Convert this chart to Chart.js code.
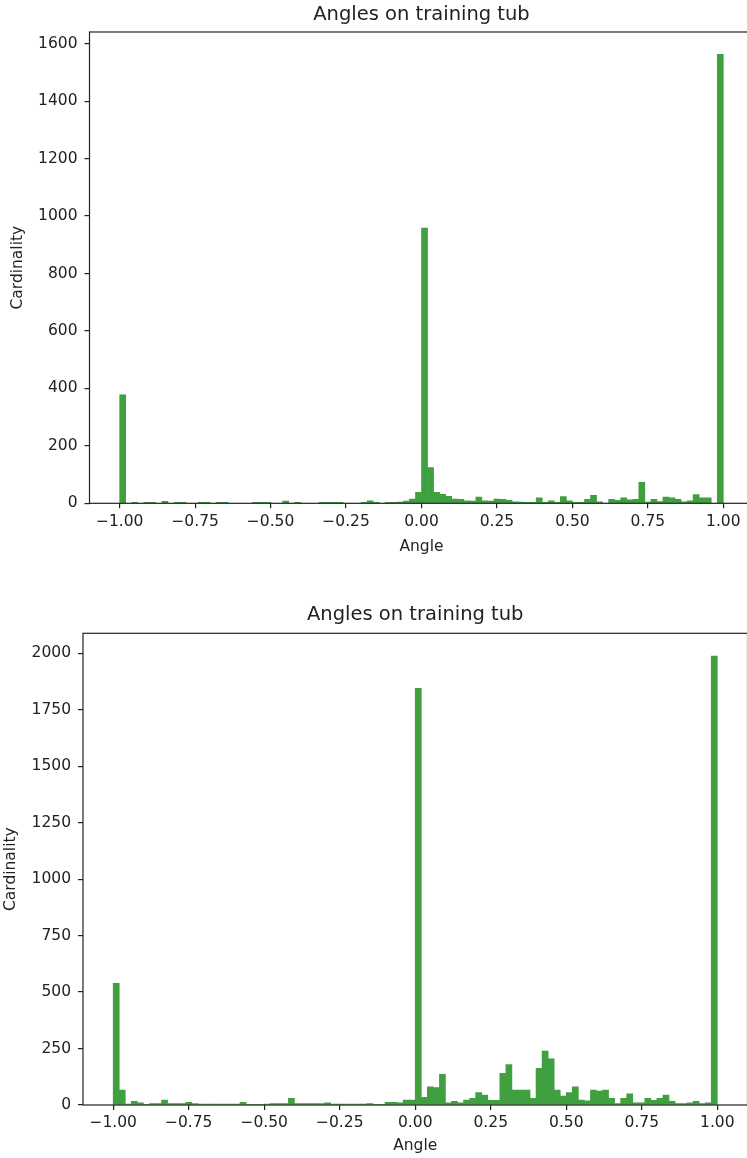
<!DOCTYPE html>
<html>
<head>
<meta charset="utf-8">
<script src="https://cdn.jsdelivr.net/npm/chart.js@4.4.1/dist/chart.umd.min.js"></script>
<style>
  html, body { margin: 0; padding: 0; background: #fff; overflow: hidden; }
  #wrap { position: relative; width: 747px; height: 1158px; overflow: hidden; }
  canvas { position: absolute; left: 0; }
  #chartTop { top: 0; }
  #chartBottom { top: 580px; }
</style>
</head>
<body>
<div id="wrap">
  <canvas id="chartTop" width="760" height="570"></canvas>
  <canvas id="chartBottom" width="760" height="578"></canvas>
</div>
<script>
// centros dos 100 bins (largura 0.02)
const binCenters = [
  -0.99, -0.97, -0.95, -0.93, -0.91, -0.89, -0.87, -0.85, -0.83, -0.81,
  -0.79, -0.77, -0.75, -0.73, -0.71, -0.69, -0.67, -0.65, -0.63, -0.61,
  -0.59, -0.57, -0.55, -0.53, -0.51, -0.49, -0.47, -0.45, -0.43, -0.41,
  -0.39, -0.37, -0.35, -0.33, -0.31, -0.29, -0.27, -0.25, -0.23, -0.21,
  -0.19, -0.17, -0.15, -0.13, -0.11, -0.09, -0.07, -0.05, -0.03, -0.01,
  0.01, 0.03, 0.05, 0.07, 0.09, 0.11, 0.13, 0.15, 0.17, 0.19,
  0.21, 0.23, 0.25, 0.27, 0.29, 0.31, 0.33, 0.35, 0.37, 0.39,
  0.41, 0.43, 0.45, 0.47, 0.49, 0.51, 0.53, 0.55, 0.57, 0.59,
  0.61, 0.63, 0.65, 0.67, 0.69, 0.71, 0.73, 0.75, 0.77, 0.79,
  0.81, 0.83, 0.85, 0.87, 0.89, 0.91, 0.93, 0.95, 0.97, 0.99
];

const countsTop = [
  378, 0, 3, 0, 3, 3, 0, 7, 0, 3,
  3, 0, 0, 3, 3, 0, 3, 3, 0, 0,
  0, 0, 3, 3, 3, 0, 0, 8, 0, 3,
  0, 0, 0, 3, 3, 3, 3, 0, 0, 0,
  3, 9, 3, 0, 3, 3, 4, 8, 15, 38,
  958, 124, 38, 31, 24, 15, 14, 9, 8, 22,
  9, 8, 15, 14, 10, 5, 4, 3, 3, 19,
  3, 9, 3, 23, 9, 3, 3, 14, 28, 5,
  0, 14, 10, 19, 12, 14, 73, 4, 14, 6,
  22, 19, 14, 5, 9, 30, 19, 19, 0, 1563
];

const countsBottom = [
  539, 66, 4, 16, 10, 3, 6, 6, 22, 6,
  6, 6, 12, 6, 4, 4, 4, 4, 4, 4,
  4, 12, 3, 3, 3, 4, 6, 6, 6, 30,
  6, 6, 6, 6, 6, 10, 4, 4, 4, 4,
  4, 4, 6, 3, 3, 12, 12, 10, 22, 22,
  1845, 34, 81, 77, 136, 10, 16, 10, 22, 30,
  55, 44, 21, 21, 140, 179, 66, 66, 66, 30,
  162, 239, 205, 66, 40, 55, 81, 22, 18, 66,
  62, 66, 30, 6, 30, 49, 10, 10, 30, 21,
  30, 44, 16, 6, 6, 10, 16, 6, 10, 1988
];

const xTicks = [-1, -0.75, -0.5, -0.25, 0, 0.25, 0.5, 0.75, 1];
const yTicksTop = [0, 200, 400, 600, 800, 1000, 1200, 1400, 1600];
const yTicksBottom = [0, 250, 500, 750, 1000, 1250, 1500, 1750, 2000];

const titleText = 'Angles on training tub';
const xLabel = 'Angle';
const yLabel = 'Cardinality';

// moldura completa (estilo matplotlib)
const frame = {
  id: 'frame',
  afterDatasetsDraw(chart) {
    const a = chart.chartArea;
    const ctx = chart.ctx;
    ctx.save();
    ctx.strokeStyle = '#222';
    ctx.lineWidth = 1.2;
    ctx.strokeRect(a.left, a.top, a.right - a.left, a.bottom - a.top);
    ctx.restore();
  }
};

function comMenos(v, casas) {
  return Number(v).toFixed(casas).replace('-', '\u2212');
}

function histograma(canvasId, counts, yTicks, yMax, box) {
  const font = { family: 'DejaVu Sans', size: 15.5 };
  return new Chart(document.getElementById(canvasId), {
    type: 'bar',
    data: {
      datasets: [{
        data: binCenters.map((x, i) => ({ x: x, y: counts[i] })),
        backgroundColor: '#40a040',
        borderWidth: 0,
        barPercentage: 1,
        categoryPercentage: 1
      }]
    },
    options: {
      responsive: false,
      animation: false,
      devicePixelRatio: 1,
      layout: { padding: { left: 0, right: box.padRight, top: 0, bottom: 0 } },
      plugins: {
        legend: { display: false },
        tooltip: { enabled: false },
        title: {
          display: true,
          text: titleText,
          fullSize: false,
          color: '#222',
          font: { family: 'DejaVu Sans', size: 19.5, weight: 'normal' },
          padding: { top: box.titleTop, bottom: box.titleBottom }
        }
      },
      scales: {
        x: {
          type: 'linear',
          min: -1.1,
          max: 1.1,
          offset: false,
          afterFit: s => { s.height = box.xHeight; },
          afterBuildTicks: s => { s.ticks = xTicks.map(v => ({ value: v })); },
          grid: { offset: false, drawOnChartArea: false, drawTicks: true, tickLength: 5, color: '#222', lineWidth: 1.2 },
          border: { display: false },
          ticks: { font: font, color: '#222', padding: 4, autoSkip: false, maxRotation: 0, callback: v => comMenos(v, 2) },
          title: { display: true, text: xLabel, font: font, color: '#222', padding: { top: 0, bottom: box.xTitlePad } }
        },
        y: {
          min: 0,
          max: yMax,
          afterFit: s => { s.width = box.yWidth; },
          afterBuildTicks: s => { s.ticks = yTicks.map(v => ({ value: v })); },
          grid: { drawOnChartArea: false, drawTicks: true, tickLength: 5, color: '#222', lineWidth: 1.2 },
          border: { display: false },
          ticks: { font: font, color: '#222', padding: 7, autoSkip: false, callback: v => String(v) },
          title: { display: true, text: yLabel, font: font, color: '#222', padding: { top: box.yTitlePad, bottom: 0 } }
        }
      }
    },
    plugins: [frame]
  });
}

window.addEventListener('DOMContentLoaded', () => {
  histograma('chartTop', countsTop, yTicksTop, 1641, {
    padRight: 6.5, titleTop: 3.3, titleBottom: 5.3,
    xHeight: 66.7, xTitlePad: 13.7, yWidth: 89.5, yTitlePad: 8.7
  });
  histograma('chartBottom', countsBottom, yTicksBottom, 2089, {
    padRight: 12.5, titleTop: 23.3, titleBottom: 6.6,
    xHeight: 53, xTitlePad: 2.7, yWidth: 83, yTitlePad: 1.7
  });
});
</script>
</body>
</html>
